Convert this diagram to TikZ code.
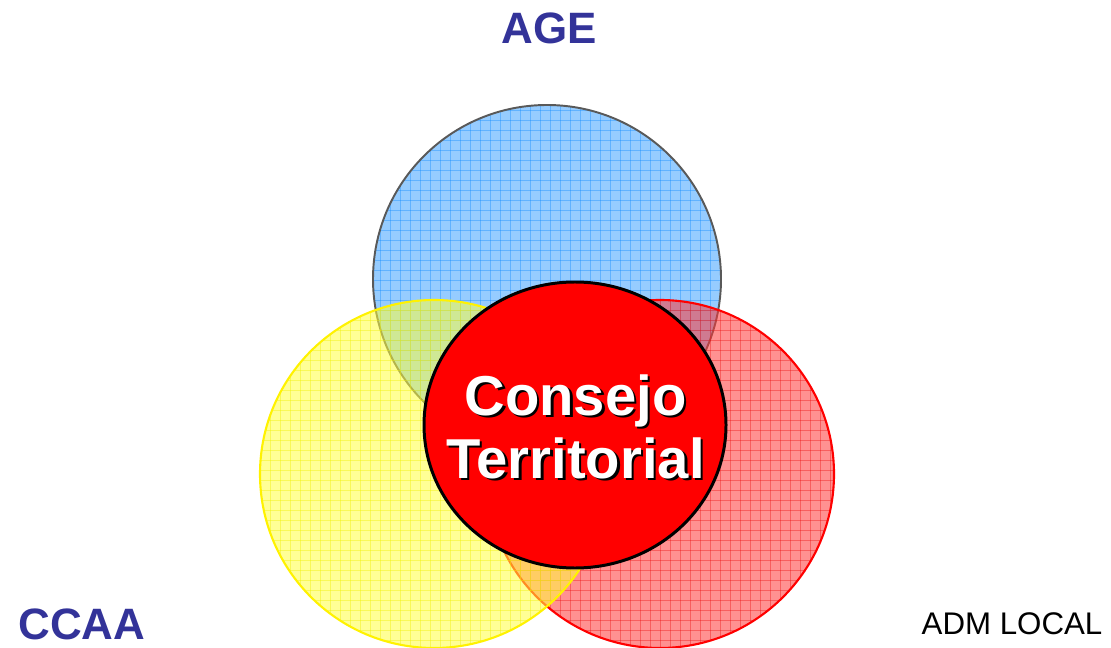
\documentclass[tikz,border=0pt]{standalone}
\usepackage{fontspec}
\setmainfont{Liberation Sans}
\usepackage{tikz}

\definecolor{titleblue}{RGB}{51,51,153}
\definecolor{agefill}{RGB}{63,163,255}
\definecolor{agegrid}{RGB}{20,140,255}
\definecolor{ccaafill}{RGB}{255,255,63}
\definecolor{ccaagrid}{RGB}{240,240,0}
\definecolor{localfill}{RGB}{255,55,55}
\definecolor{localgrid}{RGB}{235,20,20}

\tikzset{
  setfill/.style={fill opacity=0.55},
  gridline/.style={line width=0.5pt, opacity=0.4},
  bigtitle/.style={font=\fontsize{25}{30}\selectfont\bfseries, text=titleblue, inner sep=0pt},
  smalltitle/.style={font=\fontsize{17.8}{21}\selectfont, text=black, inner sep=0pt},
  consejotext/.style={font=\fontsize{32}{38}\selectfont\bfseries, anchor=base, inner sep=0pt}
}

\begin{document}
\begin{tikzpicture}[x=0.02cm,y=-0.02cm]
\useasboundingbox (0,0) rectangle (1111,648);

% AGE
\begin{scope}
\fill[agefill, setfill] (547,279) circle [radius=174];
\clip (547,279) circle [radius=174];
\foreach \g in {370,380,...,730} \draw[agegrid, gridline] (\g,100) -- (\g,460);
\foreach \g in {100,110,...,460} \draw[agegrid, gridline] (370,\g) -- (730,\g);
\end{scope}
\draw[line width=1.1pt, black!65] (547,279) circle [radius=174];

% ADM LOCAL
\begin{scope}
\fill[localfill, setfill] (660,474) circle [radius=174];
\clip (660,474) circle [radius=174];
\foreach \g in {480,490,...,840} \draw[localgrid, gridline] (\g,295) -- (\g,650);
\foreach \g in {300,310,...,650} \draw[localgrid, gridline] (480,\g) -- (840,\g);
\end{scope}
\draw[line width=1.2pt, red] (660,474) circle [radius=174];

% CCAA
\begin{scope}
\fill[ccaafill, setfill] (434,474) circle [radius=174];
\clip (434,474) circle [radius=174];
\foreach \g in {260,270,...,610} \draw[ccaagrid, gridline] (\g,295) -- (\g,650);
\foreach \g in {300,310,...,650} \draw[ccaagrid, gridline] (255,\g) -- (610,\g);
\end{scope}
\draw[line width=1.2pt, yellow] (434,474) circle [radius=174];

% consejo
\fill[red] (575,425) ellipse [x radius=151, y radius=143];
\draw[line width=1.7pt] (575,425) ellipse [x radius=151, y radius=143];

\node[consejotext, text=black] (consejoS) at (578,417.5) {Consejo};
\node[consejotext, text=white] (consejo) at (575.5,415) {Consejo};
\node[consejotext, text=black] (territorialS) at (578,480.5) {Territorial};
\node[consejotext, text=white] (territorial) at (575.5,478) {Territorial};

\node[bigtitle] (age) at (549,28) {AGE};
\node[bigtitle] (ccaa) at (82,624) {CCAA};
\node[smalltitle] (local) at (1012,623.5) {ADM LOCAL};
\end{tikzpicture}
\end{document}
